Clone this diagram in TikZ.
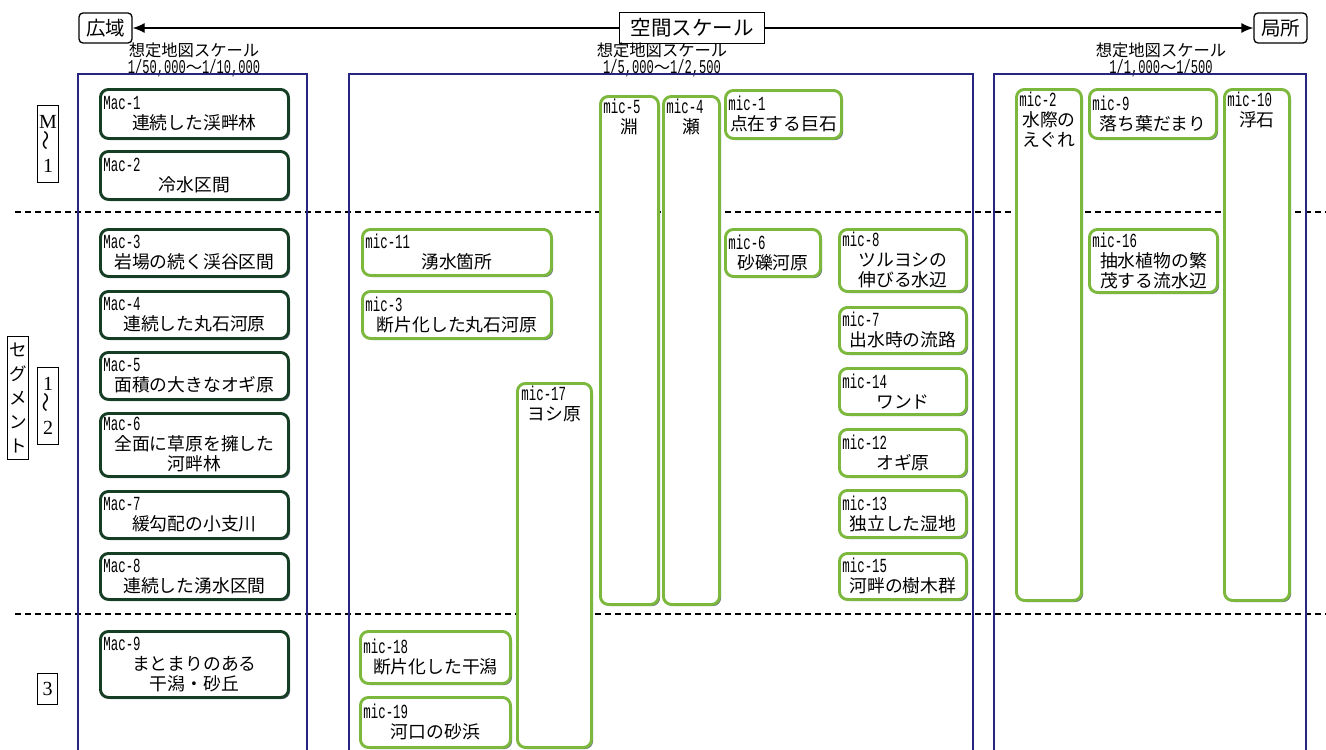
\documentclass[tikz,border=0pt]{standalone}
\usepackage{fontspec}
\setmainfont{Noto Sans CJK JP}
\newfontfamily\idfont[FakeStretch=0.62]{Liberation Mono}
\newfontfamily\numfont{Liberation Serif}
\usetikzlibrary{arrows.meta,shadows,positioning}

\definecolor{macgreen}{RGB}{22,62,36}
\definecolor{micgreen}{RGB}{124,184,60}
\definecolor{framenavy}{RGB}{38,38,130}
\definecolor{shadowblue}{RGB}{105,112,140}

\newcommand{\idtag}[1]{\makebox[\hsize][l]{\idfont\fontsize{20}{20}\selectfont #1}\\}
\newcommand{\mapratio}[1]{{\idfont\fontsize{19.5}{14}\selectfont #1}}

\begin{document}
\begin{tikzpicture}[x=1pt,y=-1pt,
    cell/.style={anchor=north west,rounded corners=8pt,fill=white,line width=2.9pt,
      inner sep=3pt,align=center,font=\fontsize{17.8}{20}\selectfont,
      drop shadow={shadow xshift=1.6pt,shadow yshift=-1.6pt,fill=shadowblue,opacity=1}},
    mac/.style={cell,draw=macgreen,text width=182pt,minimum height=#1},
    mic/.style 2 args={cell,draw=micgreen,text width=#1,minimum height=#2},
    tall/.style 2 args={cell,draw=micgreen,minimum width=#1,minimum height=#2},
    inlabel/.style={text width=#1,align=center,inner sep=0pt,font=\fontsize{17.8}{20}\selectfont},
    side/.style 2 args={draw,line width=1.2pt,anchor=north west,minimum width=#1,
      minimum height=#2,inner sep=0pt,align=center},
    endbox/.style={draw,line width=1.3pt,rounded corners=4pt,minimum width=53pt,
      minimum height=30pt,inner sep=2pt,font=\fontsize{19.5}{20}\selectfont},
    scalebox/.style={draw,line width=1.3pt,fill=white,minimum width=145pt,
      minimum height=31pt,font=\fontsize{20.5}{21}\selectfont},
    scaletext/.style={align=center,inner sep=0pt,font=\fontsize{16.3}{14}\selectfont},
    divider/.style={line width=1.7pt,dash pattern=on 6pt off 4pt},
    frame/.style={draw=framenavy,line width=2.5pt},
    arr/.style={line width=1.3pt,-{Latex[length=12pt,width=10pt]}}]
    \useasboundingbox[fill=white] (0,0) rectangle (1326,750);

    %% Spatial scale axis
    \node[endbox] (wide) at (105.5,28) {広域};
    \node[endbox] (local) at (1280.5,28) {局所};
    \node[scalebox] (space) at (692,28) {空間スケール};
    \draw[arr] (space) -- (wide);
    \draw[arr] (space) -- (local);

    %% Map scales
    \node[scaletext] (mapL) at (194,60) {想定地図スケール\\\mapratio{1/50,000}〜\mapratio{1/10,000}};
    \node[scaletext] (mapM) at (662,60) {想定地図スケール\\\mapratio{1/5,000}〜\mapratio{1/2,500}};
    \node[scaletext] (mapR) at (1161,60) {想定地図スケール\\\mapratio{1/1,000}〜\mapratio{1/500}};

    %% Segment dividers
    \draw[divider] (15,212) -- (1326,212);
    \draw[divider] (15,614) -- (1326,614);

    %% Frames
    \draw[frame] (78,750) -- (78,74) -- (307,74) -- (307,750);
    \draw[frame] (349,750) -- (349,74) -- (973,74) -- (973,750);
    \draw[frame] (994,750) -- (994,74) -- (1306,74) -- (1306,750);

    %% Segments
    \node[side={21pt}{123pt},font=\fontsize{17.5}{24}\selectfont] (seg) at (7,336) {セ\\グ\\メ\\ン\\ト};
    \node[side={21pt}{77pt},font=\numfont\fontsize{20}{22}\selectfont] (segM) at (37,105)
      {M\\\rotatebox{90}{\rmfamily 〜}\\1};
    \node[side={21pt}{77pt},font=\numfont\fontsize{20}{22}\selectfont] (seg12) at (37,367)
      {1\\\rotatebox{90}{\rmfamily 〜}\\2};
    \node[side={20pt}{31pt},font=\numfont\fontsize{20}{22}\selectfont] (seg3) at (37,673) {3};

    %% Macro habitats
    \node[mac=49pt] (mac1) at (99,88) {\idtag{Mac-1}連続した渓畔林};
    \node[mac=48pt] (mac2) at (99,150) {\idtag{Mac-2}冷水区間};
    \node[mac=47pt] (mac3) at (99,228) {\idtag{Mac-3}岩場の続く渓谷区間};
    \node[mac=47pt] (mac4) at (99,290) {\idtag{Mac-4}連続した丸石河原};
    \node[mac=47pt] (mac5) at (99,351) {\idtag{Mac-5}面積の大きなオギ原};
    \node[mac=63pt] (mac6) at (99,412) {\idtag{Mac-6}全面に草原を擁した\\河畔林};
    \node[mac=47pt] (mac7) at (99,490) {\idtag{Mac-7}緩勾配の小支川};
    \node[mac=46pt] (mac8) at (99,552) {\idtag{Mac-8}連続した湧水区間};
    \node[mac=66pt] (mac9) at (99,630) {\idtag{Mac-9}まとまりのある\\干潟・砂丘};

    %% Micro habitats, long
    \node[tall={58pt}{508pt}] (mic5) at (599,95) {};
    \node[inlabel=52pt,below=4pt of mic5.north] (mic5t) {\idtag{mic-5}淵};
    \node[tall={56pt}{508pt}] (mic4) at (662,95) {};
    \node[inlabel=50pt,below=4pt of mic4.north] (mic4t) {\idtag{mic-4}瀬};
    \node[tall={74pt}{364pt}] (mic17) at (516,382) {};
    \node[inlabel=66pt,below=4pt of mic17.north] (mic17t) {\idtag{mic-17}ヨシ原};
    \node[tall={65pt}{511pt}] (mic2) at (1015,88) {};
    \node[inlabel=59pt,below=4pt of mic2.north] (mic2t) {\idtag{mic-2}水際の\\えぐれ};
    \node[tall={65pt}{511pt}] (mic10) at (1223,88) {};
    \node[inlabel=59pt,below=4pt of mic10.north] (mic10t) {\idtag{mic-10}浮石};

    %% Micro habitats
    \node[mic={110pt}{48pt}] (mic1) at (724,89) {\idtag{mic-1}点在する巨石};
    \node[mic={121pt}{49pt}] (mic9) at (1088,88) {\idtag{mic-9}落ち葉だまり};
    \node[mic={183pt}{46pt}] (mic11) at (361,228) {\idtag{mic-11}湧水箇所};
    \node[mic={183pt}{47pt}] (mic3) at (361,290) {\idtag{mic-3}断片化した丸石河原};
    \node[mic={89pt}{47pt}] (mic6) at (724,228) {\idtag{mic-6}砂礫河原};
    \node[mic={121pt}{62pt}] (mic8) at (838,228) {\idtag{mic-8}ツルヨシの\\伸びる水辺};
    \node[mic={122pt}{63pt}] (mic16) at (1088,228) {\idtag{mic-16}抽水植物の繁\\茂する流水辺};
    \node[mic={121pt}{46pt}] (mic7) at (838,306) {\idtag{mic-7}出水時の流路};
    \node[mic={121pt}{46pt}] (mic14) at (838,367) {\idtag{mic-14}ワンド};
    \node[mic={121pt}{47pt}] (mic12) at (838,428) {\idtag{mic-12}オギ原};
    \node[mic={121pt}{47pt}] (mic13) at (838,489) {\idtag{mic-13}独立した湿地};
    \node[mic={121pt}{46pt}] (mic15) at (838,552) {\idtag{mic-15}河畔の樹木群};
    \node[mic={144pt}{52pt}] (mic18) at (359,630) {\idtag{mic-18}断片化した干潟};
    \node[mic={144pt}{50pt}] (mic19) at (359,696) {\idtag{mic-19}河口の砂浜};
\end{tikzpicture}
\end{document}
